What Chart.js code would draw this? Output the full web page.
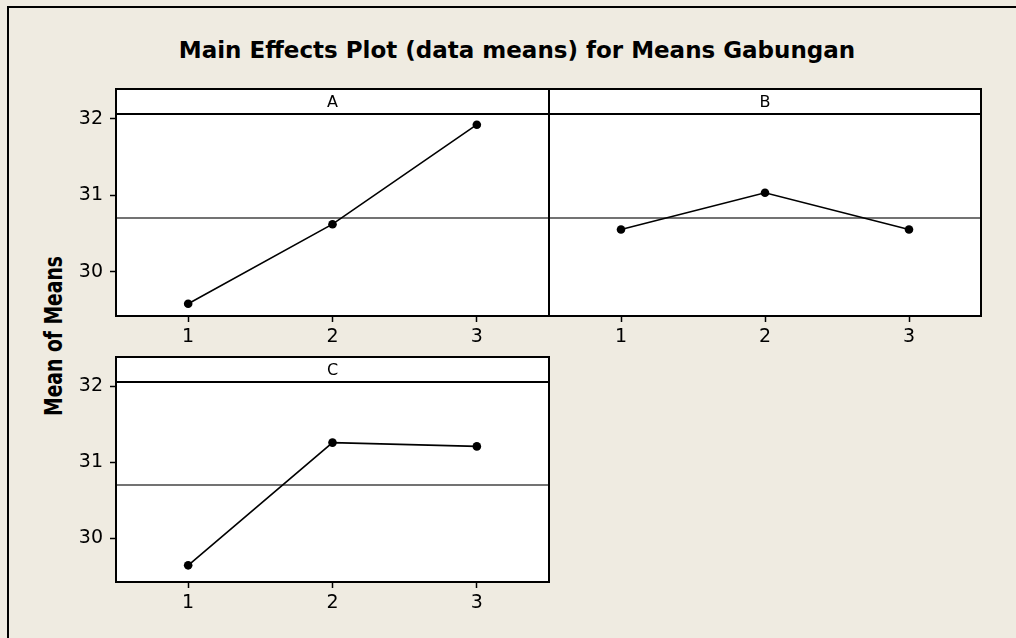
<!DOCTYPE html>
<html>
<head>
<meta charset="utf-8">
<script src="https://cdn.jsdelivr.net/npm/chart.js@4.4.1/dist/chart.umd.min.js"></script>
<style>
  html, body { margin:0; padding:0; }
  body { width:1016px; height:638px; background:#efebe1; position:relative; overflow:hidden; font-family:'DejaVu Sans', Verdana, sans-serif; }
  #frameTop { position:absolute; left:7px; top:6px; width:1009px; height:2px; background:#000; }
  #frameLeft { position:absolute; left:7px; top:6px; width:2px; height:632px; background:#000; }
  #title { position:absolute; left:0; width:1034px; top:39px; text-align:center; font:bold 23px 'DejaVu Sans', sans-serif; line-height:23px; color:#000; white-space:nowrap; }
  #ytitle { position:absolute; left:53px; top:336px; font:bold 25px 'DejaVu Sans', sans-serif; line-height:25px; white-space:nowrap; color:#000;
            transform: translate(-50%,-50%) rotate(-90deg) scaleX(0.75); }
  canvas { position:absolute; }
</style>
</head>
<body>
<div id="frameTop"></div>
<div id="frameLeft"></div>
<div id="title">Main Effects Plot (data means) for Means Gabungan</div>
<div id="ytitle">Mean of Means</div>
<canvas id="cA" width="500" height="300" style="left:60px;top:60px;width:500px;height:300px"></canvas>
<canvas id="cB" width="476" height="300" style="left:540px;top:60px;width:476px;height:300px"></canvas>
<canvas id="cC" width="500" height="298" style="left:60px;top:328px;width:500px;height:298px"></canvas>
<script>
// ---- data ----
const factors = ['A', 'B', 'C'];
const levels = [1, 2, 3];
const meansA = [29.58, 30.62, 31.92];
const meansB = [30.55, 31.03, 30.55];
const meansC = [29.64, 31.26, 31.21];
const grandMean = 30.70;
const yTicks = [30, 31, 32];
const xTicks = [1, 2, 3];
const yMin = 29.42, yMax = 32.06;
const xMin = 0.5, xMax = 3.5;

const panelPlugin = {
  id: 'panel',
  beforeDraw(chart) {
    const { ctx, chartArea: a } = chart;
    ctx.save();
    ctx.fillStyle = '#ffffff';
    ctx.fillRect(a.left, a.top, a.right - a.left, a.bottom - a.top);
    ctx.restore();
  },
  beforeDatasetsDraw(chart, args, opts) {
    const { ctx, chartArea: a, scales } = chart;
    const y = scales.y.getPixelForValue(opts.mean);
    ctx.save();
    ctx.strokeStyle = '#444444';
    ctx.lineWidth = 1.5;
    ctx.beginPath();
    ctx.moveTo(a.left, y);
    ctx.lineTo(a.right, y);
    ctx.stroke();
    ctx.restore();
  },
  afterDraw(chart, args, opts) {
    const { ctx, chartArea: a } = chart;
    const hh = 25;
    ctx.save();
    ctx.fillStyle = '#ffffff';
    ctx.fillRect(a.left, a.top - hh, a.right - a.left, hh);
    ctx.strokeStyle = '#000000';
    ctx.lineWidth = 2;
    ctx.strokeRect(a.left, a.top - hh, a.right - a.left, hh);
    ctx.strokeRect(a.left, a.top, a.right - a.left, a.bottom - a.top);
    ctx.fillStyle = '#000000';
    ctx.font = '16px "DejaVu Sans", sans-serif';
    ctx.textAlign = 'center';
    ctx.textBaseline = 'middle';
    ctx.fillText(opts.label, (a.left + a.right) / 2, a.top - hh / 2 + 1);
    ctx.restore();
  }
};

function makePanel(canvasId, label, values, showY, pad) {
  const pts = levels.map((lv, i) => ({ x: lv, y: values[i] }));
  return new Chart(document.getElementById(canvasId), {
    type: 'line',
    data: {
      datasets: [{
        data: pts,
        borderColor: '#000000',
        borderWidth: 1.6,
        backgroundColor: '#000000',
        pointBackgroundColor: '#000000',
        pointBorderWidth: 0,
        pointRadius: 4.3,
        tension: 0,
        fill: false
      }]
    },
    options: {
      responsive: false,
      animation: false,
      events: [],
      layout: { padding: pad },
      plugins: {
        legend: { display: false },
        tooltip: { enabled: false },
        title: { display: false },
        panel: { label: label, mean: grandMean }
      },
      scales: {
        x: {
          type: 'linear',
          min: xMin, max: xMax,
          afterBuildTicks: (s) => { s.ticks = xTicks.map(v => ({ value: v })); },
          afterFit: (s) => { s.height = 44; },
          border: { display: false },
          grid: { display: true, drawOnChartArea: false, drawTicks: true, tickLength: 6, tickColor: '#000', tickWidth: 1.5 },
          ticks: { color: '#000', font: { family: 'DejaVu Sans', size: 19 }, padding: 4, maxRotation: 0, callback: (v) => String(v) }
        },
        y: {
          type: 'linear',
          display: showY,
          min: yMin, max: yMax,
          afterBuildTicks: (s) => { s.ticks = yTicks.map(v => ({ value: v })); },
          afterFit: (s) => { s.width = showY ? 56 : 0; },
          border: { display: false },
          grid: { display: true, drawOnChartArea: false, drawTicks: true, tickLength: 6, tickColor: '#000', tickWidth: 1.5 },
          ticks: { color: '#000', font: { family: 'DejaVu Sans', size: 19 }, padding: 7, callback: (v) => String(v) }
        }
      }
    },
    plugins: [panelPlugin]
  });
}

makePanel('cA', factors[0], meansA, true, { left: 0, top: 54, right: 11, bottom: 0 });
makePanel('cB', factors[1], meansB, false, { left: 9, top: 54, right: 35, bottom: 0 });
makePanel('cC', factors[2], meansC, true, { left: 0, top: 54, right: 11, bottom: 0 });
</script>
</body>
</html>
